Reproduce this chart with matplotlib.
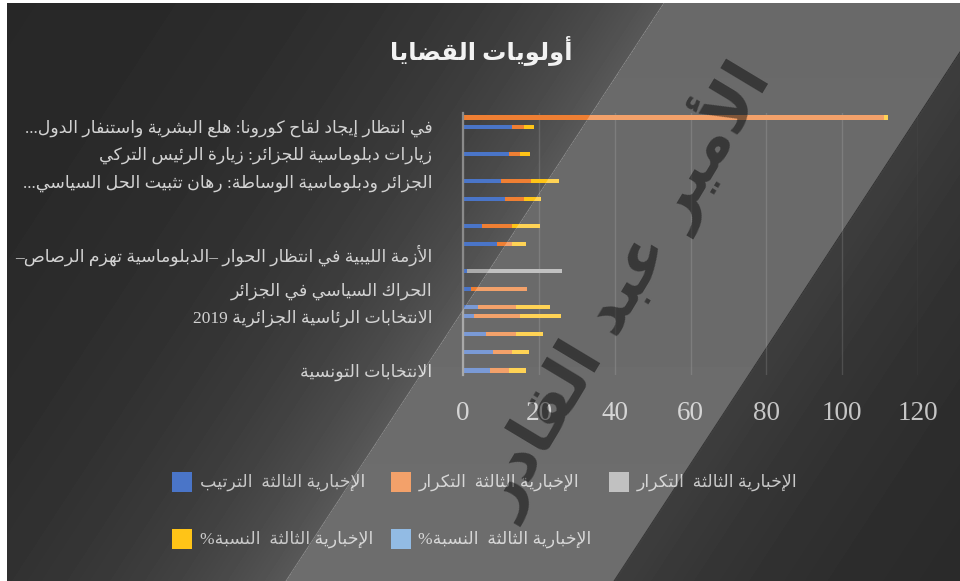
import re

import matplotlib

matplotlib.use("Agg")
import matplotlib.pyplot as plt
import numpy as np
from matplotlib.patches import Polygon, Rectangle

# ---- data (top row first) ------------------------------------------------
categories = [
    "", "في انتظار إيجاد لقاح كورونا: هلع البشرية واستنفار الدول...", "", "",
    "زيارات دبلوماسية للجزائر: زيارة الرئيس التركي", "", "",
    "الجزائر ودبلوماسية الوساطة: رهان تثبيت الحل السياسي...", "", "", "", "",
    "", "", "", "الأزمة الليبية في انتظار الحوار –الدبلوماسية تهزم الرصاص–",
    "", "", "", "الحراك السياسي في الجزائر", "", "",
    "الانتخابات الرئاسية الجزائرية 2019", "", "", "", "", "",
    "الانتخابات التونسية",
]
rank = [0, 13, 0, 0, 12, 0, 0, 10, 0, 11, 0, 0, 5, 0, 9, 0, 0, 1, 0, 2, 0,
        4, 3, 0, 6, 0, 8, 0, 7]
freq = [111, 3, 0, 0, 3, 0, 0, 8, 0, 5, 0, 0, 8, 0, 4, 0, 0, 0, 0, 15, 0,
        10, 12, 0, 8, 0, 5, 0, 5]
freq_b = [0, 0, 0, 0, 0, 0, 0, 0, 0, 0, 0, 0, 0, 0, 0, 0, 0, 25, 0, 0, 0,
          0, 0, 0, 0, 0, 0, 0, 0]
pct = [1, 2.7, 0, 0, 2.7, 0, 0, 7.2, 0, 4.5, 0, 0, 7.2, 0, 3.6, 0, 0, 0, 0,
       0, 0, 9.0, 10.8, 0, 7.2, 0, 4.5, 0, 4.5]
pct_b = [0] * 29

series_names = [
    "الإخبارية الثالثة  الترتيب",
    "الإخبارية الثالثة  التكرار",
    "الإخبارية الثالثة  التكرار",
    "الإخبارية الثالثة  النسبة%",
    "الإخبارية الثالثة  النسبة%",
]
series_values = [rank, freq, freq_b, pct, pct_b]
series_colors = ["#4a75c8", "#ef7f33", "#ababab", "#ffc417", "#6aa3da"]
x_ticks = [0, 20, 40, 60, 80, 100, 120]
title = "أولويات القضايا"
watermark = "الأمير عبد القادر"

# ---- minimal Arabic shaping (matplotlib has no complex text layout) -------
_DUAL = {
    "ئ": 0xFE89, "ب": 0xFE8F, "ت": 0xFE95, "ث": 0xFE99, "ج": 0xFE9D,
    "ح": 0xFEA1, "خ": 0xFEA5, "س": 0xFEB1, "ش": 0xFEB5, "ص": 0xFEB9,
    "ض": 0xFEBD, "ط": 0xFEC1, "ظ": 0xFEC5, "ع": 0xFEC9, "غ": 0xFECD,
    "ف": 0xFED1, "ق": 0xFED5, "ك": 0xFED9, "ل": 0xFEDD, "م": 0xFEE1,
    "ن": 0xFEE5, "ه": 0xFEE9, "ي": 0xFEF1,
}
_RIGHT = {
    "آ": 0xFE81, "أ": 0xFE83, "ؤ": 0xFE85, "إ": 0xFE87, "ا": 0xFE8D,
    "ة": 0xFE93, "د": 0xFEA9, "ذ": 0xFEAB, "ر": 0xFEAD, "ز": 0xFEAF,
    "و": 0xFEED, "ى": 0xFEEF,
}
_LAM_ALEF = {"آ": 0xFEF5, "أ": 0xFEF7, "إ": 0xFEF9, "ا": 0xFEFB}


def rtl(text):
    """Return Arabic text in joined presentation forms, in visual order."""
    units = []
    i = 0
    while i < len(text):
        ch = text[i]
        if ch == "ل" and i + 1 < len(text) and text[i + 1] in _LAM_ALEF:
            units.append((_LAM_ALEF[text[i + 1]], "R"))
            i += 2
            continue
        if ch in _DUAL:
            units.append((_DUAL[ch], "D"))
        elif ch in _RIGHT:
            units.append((_RIGHT[ch], "R"))
        else:
            units.append((ch, "N"))
        i += 1
    out = []
    for k, (base, kind) in enumerate(units):
        if kind == "N":
            out.append(base)
            continue
        prev = k > 0 and units[k - 1][1] == "D"
        nxt = kind == "D" and k + 1 < len(units) and units[k + 1][1] != "N"
        if kind == "R":
            out.append(chr(base + (1 if prev else 0)))
        else:
            out.append(chr(base + {(0, 0): 0, (1, 0): 1, (0, 1): 2, (1, 1): 3}[(int(prev), int(nxt))]))
    s = "".join(out)[::-1]
    return re.sub(r"[0-9A-Za-z]+", lambda m: m.group(0)[::-1], s)


AR_FONT = ["Liberation Serif", "DejaVu Sans"]
W, H = 960, 581

fig = plt.figure(figsize=(W / 100, H / 100), dpi=100, facecolor="white")

# background: dark gradient with a glow along the diagonal band
slope = 0.654
u_left, u_right = 665.4, 993.4
bg_ax = fig.add_axes([7 / W, 0, 1 - 7 / W, 1 - 3 / H], zorder=-10)
yy, xx = np.mgrid[3:H, 7:W].astype(float)
u = xx + slope * yy
g = np.where(
    u < u_left,
    38 + 50 * np.exp(-(u_left - u) / 190.0),
    np.where(u > u_right, 38 + 24 * np.exp(-(u - u_right) / 190.0), 50 + 6 * (yy / H)),
)
bg_ax.imshow(g, cmap="gray", vmin=0, vmax=255, aspect="auto", interpolation="bilinear")
bg_ax.axis("off")

# chart
ax = fig.add_axes([463 / W, 1 - 375 / H, 455 / W, 262 / H])
ax.set_facecolor("none")
ypos = np.arange(len(categories))
left = np.zeros(len(categories))
for vals, col in zip(series_values, series_colors):
    vals = np.asarray(vals, dtype=float)
    ax.barh(ypos, vals, left=left, height=0.45, color=col, zorder=3)
    left += vals

ax.set_xlim(0, 120)
ax.set_ylim(len(categories) - 0.5, -0.5)
ax.set_xticks(x_ticks)
ax.set_xticklabels([str(t) for t in x_ticks], family="Liberation Serif",
                   fontsize=19.5, color="#c6c6c6")
ax.set_yticks(ypos)
ax.set_yticklabels([rtl(c) for c in categories], family=AR_FONT,
                   fontsize=12.5, color="#d2d2d2")
ax.tick_params(axis="x", length=0, pad=19)
ax.tick_params(axis="y", length=0, pad=22)
ax.xaxis.grid(True, color="white", alpha=0.13, lw=1, zorder=0)
for side in ("top", "right", "bottom"):
    ax.spines[side].set_visible(False)
ax.spines["left"].set_color("#8a8a8a")
ax.spines["left"].set_linewidth(1.6)
ax.spines["left"].set_zorder(4)

fig.text(481 / W, 1 - 50 / H, rtl(title), family=AR_FONT, fontsize=17.5,
         fontweight="bold", color="#f2f2f2", ha="center", va="center")

# legend, laid out like the original (three per row, marker then text)
for i, (name, col) in enumerate(zip(series_names, series_colors)):
    x0 = 172 + (i % 3) * 218.5
    yc = 482 + (i // 3) * 57
    fig.add_artist(Rectangle((x0 / W, 1 - (yc + 10) / H), 20 / W, 20 / H,
                             transform=fig.transFigure, facecolor=col,
                             edgecolor="none", zorder=3))
    fig.text((x0 + 28) / W, 1 - yc / H, rtl(name), family=AR_FONT, fontsize=12.5,
             color="#c8c8c8", ha="left", va="center", zorder=3)

# light diagonal band over everything
band = [(u_left, 0), (u_right, 0), (u_right - slope * H, H), (u_left - slope * H, H)]
fig.add_artist(Polygon([(x / W, 1 - y / H) for x, y in band], closed=True,
                       transform=fig.transFigure, facecolor="white", alpha=0.27,
                       edgecolor="none", zorder=5))

# dark signature watermark
fig.text(622 / W, 1 - 288 / H, rtl(watermark), family="DejaVu Sans",
         fontweight="bold", fontsize=46, color="black", alpha=0.47,
         rotation=59, rotation_mode="anchor", ha="center", va="center", zorder=6)

fig.savefig("out.png", dpi=100, facecolor=fig.get_facecolor())
